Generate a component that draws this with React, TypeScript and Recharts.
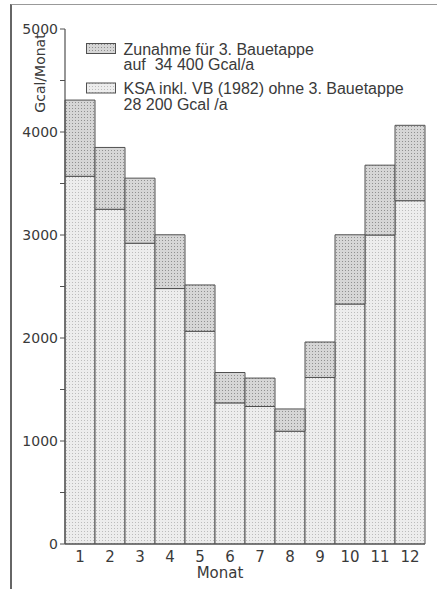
import React from 'react';
import { BarChart, Bar, XAxis, YAxis, Legend } from 'recharts';

const months = ['1', '2', '3', '4', '5', '6', '7', '8', '9', '10', '11', '12'];
const baseValues = [3570, 3250, 2920, 2480, 2065, 1370, 1335, 1095, 1617, 2330, 3000, 3333];
const totalValues = [4310, 3850, 3552, 3002, 2515, 1665, 1611, 1311, 1961, 3002, 3678, 4065];
const yTicks = [0, 500, 1000, 1500, 2000, 2500, 3000, 3500, 4000, 4500, 5000];
const legendIncrement = ['Zunahme für 3. Bauetappe', 'auf  34 400 Gcal/a'];
const legendBase = ['KSA inkl. VB (1982) ohne 3. Bauetappe', '28 200 Gcal /a'];

const data = months.map((m, i) => ({
  month: m,
  base: baseValues[i],
  inc: totalValues[i] - baseValues[i],
}));

const FONT = '"DejaVu Sans", sans-serif';
const LEGEND_FONT = '"Liberation Sans", Arial, sans-serif';
const TXT = '#3a3a3a';
const LINE = '#505050';

const LegendContent = () => {
  const items = [
    { fill: 'url(#patInc)', lines: legendIncrement },
    { fill: 'url(#patBase)', lines: legendBase },
  ];
  return (
    <svg width={340} height={80} style={{ display: 'block', overflow: 'visible' }}>
      {items.map((it, k) => {
        const y0 = k * 39.5;
        return (
          <g key={k}>
            <rect x={0.5} y={y0 + 2.5} width={29} height={10} fill={it.fill} stroke={LINE} strokeWidth={1} />
            {it.lines.map((l, j) => (
              <text
                key={j}
                x={37.5}
                y={y0 + 13.5 + j * 15.7}
                fill={TXT}
                fontSize={16}
                fontFamily={LEGEND_FONT}
                style={{ whiteSpace: 'pre' }}
              >
                {l}
              </text>
            ))}
          </g>
        );
      })}
    </svg>
  );
};

export default function App() {
  return (
    <div style={{ position: 'absolute', left: 0, top: 0, width: 437, height: 589, background: '#fff' }}>
      <div
        style={{
          position: 'absolute',
          left: 10,
          top: 4,
          width: 427,
          height: 585,
          borderLeft: '2px solid #666',
          borderTop: '1px solid #999',
        }}
      />
      <BarChart
        width={437}
        height={589}
        data={data}
        margin={{ top: 29, right: 12, bottom: 0, left: 0 }}
        barCategoryGap={0}
        barGap={0}
        style={{ position: 'absolute', left: 0, top: 0 }}
      >
        <defs>
          <pattern id="patBase" width={3} height={3} patternUnits="userSpaceOnUse">
            <rect width={3} height={3} fill="#ededed" />
            <rect x={0} y={0} width={1} height={1} fill="#bcbcbc" />
          </pattern>
          <pattern id="patInc" width={3} height={3} patternUnits="userSpaceOnUse">
            <rect width={3} height={3} fill="#d6d6d6" />
            <rect x={0} y={0} width={1} height={1} fill="#909090" />
          </pattern>
        </defs>
        <XAxis
          dataKey="month"
          height={45}
          tickLine={false}
          tickSize={0}
          tickMargin={7}
          axisLine={{ stroke: LINE, strokeWidth: 1.2 }}
          tick={{ fill: TXT, fontSize: 15, fontFamily: FONT }}
          label={{
            content: (p: any) => (
              <text
                x={p.viewBox.x + p.viewBox.width / 2 - 25}
                y={p.viewBox.y + 34}
                textAnchor="middle"
                fill={TXT}
                fontSize={15}
                fontFamily={FONT}
              >
                Monat
              </text>
            ),
          }}
        />
        <XAxis
          xAxisId="top"
          dataKey="month"
          orientation="top"
          height={0}
          tick={false}
          tickLine={false}
          axisLine={{ stroke: '#777', strokeWidth: 1 }}
        />
        <YAxis
          width={65}
          domain={[0, 5000]}
          ticks={yTicks}
          interval={0}
          tickSize={5}
          tickMargin={2}
          tickFormatter={(v: number) => (v % 1000 === 0 ? String(v) : '')}
          tickLine={{ stroke: LINE }}
          axisLine={{ stroke: LINE, strokeWidth: 1.2 }}
          tick={{ fill: TXT, fontSize: 14, fontFamily: FONT }}
          label={{
            content: () => (
              <text
                x={0}
                y={0}
                transform="translate(45,73) rotate(-90)"
                textAnchor="middle"
                fill={TXT}
                fontSize={14}
                fontFamily={FONT}
              >
                Gcal/Monat
              </text>
            ),
          }}
        />
        <YAxis
          yAxisId="r"
          orientation="right"
          width={0}
          domain={[0, 5000]}
          tick={false}
          tickLine={false}
          axisLine={{ stroke: '#777', strokeWidth: 1 }}
        />
        <Legend
          layout="vertical"
          verticalAlign="middle"
          align="center"
          content={() => <LegendContent />}
          wrapperStyle={{ left: 86, top: 41, width: 340, height: 80 }}
        />
        <Bar dataKey="base" stackId="a" fill="url(#patBase)" stroke={LINE} strokeWidth={1} isAnimationActive={false} />
        <Bar dataKey="inc" stackId="a" fill="url(#patInc)" stroke={LINE} strokeWidth={1} isAnimationActive={false} />
      </BarChart>
    </div>
  );
}
